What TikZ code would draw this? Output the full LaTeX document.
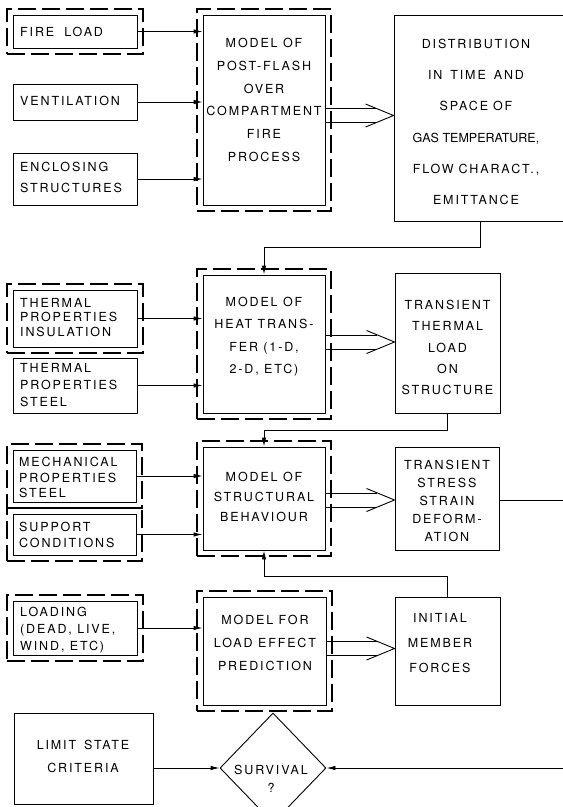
\documentclass[tikz,border=0pt]{standalone}
\usepackage{fontspec}
\usetikzlibrary{arrows.meta,calc,fit,shapes.geometric}
\newfontfamily\lab[LetterSpace=15]{TeX Gyre Heros}
\newfontfamily\labn{TeX Gyre Heros}
\newcommand\lsz[1]{\lab\fontsize{12.5}{#1}\selectfont}
\newcommand\hollowarr[3]{%
  \coordinate (h#2) at (0,#3);
  \coordinate (#2tip) at (#2.west |- h#2);
  \draw[ln] ($(#1.east |- h#2)+(0,7pt)$) -- ($(#2tip)+(-17.5pt,7pt)$);
  \draw[ln] ($(#1.east |- h#2)+(0,-7pt)$) -- ($(#2tip)+(-17.5pt,-7pt)$);
  \draw[ln] ($(#2tip)+(-28pt,11.5pt)$) -- (#2tip) -- ($(#2tip)+(-28pt,-11.5pt)$);
}
\begin{document}
\begin{tikzpicture}[x=1pt,y=-1pt,
  ln/.style={line width=0.9pt},
  arr/.style={ln,-{Latex[length=9pt,width=4.5pt]}},
  box/.style={draw,line width=0.9pt,inner sep=0pt},
  outerd/.style={draw,line width=1.3pt,dash pattern=on 18pt off 6pt,inner sep=5.5pt},
  tx/.style={inner sep=0pt,align=center,font=\lsz{#1}},
  txl/.style={inner sep=0pt,align=left,anchor=west,font=\lsz{#1}}]
\useasboundingbox (0,0) rectangle (563,807);

% ---- boxes ----
\node[box,minimum width=124pt,minimum height=33pt] (fl) at (75,31.5) {};
\node[box,minimum width=124pt,minimum height=36pt] (ven) at (75,102) {};
\node[box,minimum width=124pt,minimum height=52pt] (enc) at (75,179) {};
\node[box,minimum width=122pt,minimum height=190pt] (m1) at (264,110) {};
\node[box,minimum width=172pt,minimum height=206pt] (dist) at (480,118) {};

\node[box,minimum width=124pt,minimum height=57pt] (tpi) at (75,318.5) {};
\node[box,minimum width=124pt,minimum height=55pt] (tps) at (75,385.5) {};
\node[box,minimum width=122pt,minimum height=138pt] (m2) at (264,344) {};
\node[box,minimum width=105pt,minimum height=140pt] (ttl) at (447.5,343) {};

\node[box,minimum width=123pt,minimum height=52pt] (mps) at (74.5,476) {};
\node[box,minimum width=123pt,minimum height=41pt] (sc) at (74.5,534.5) {};
\node[box,minimum width=122pt,minimum height=103pt] (m3) at (264,498.5) {};
\node[box,minimum width=104pt,minimum height=103pt] (ts) at (447,498.5) {};

\node[box,minimum width=124pt,minimum height=54pt] (ld) at (75,628) {};
\node[box,minimum width=123pt,minimum height=108pt] (m4) at (264.5,651) {};
\node[box,minimum width=105pt,minimum height=108pt] (imf) at (447.5,651) {};

\node[box,minimum width=139pt,minimum height=91pt] (ls) at (83.5,758.5) {};
\node[diamond,draw,ln,inner sep=0pt,minimum width=106pt,minimum height=110pt] (dia) at (273,768) {};

% ---- dashed outer borders ----
\node[outerd,fit=(fl)] (flo) {};
\node[outerd,fit=(m1)] (m1o) {};
\node[outerd,fit=(tpi)] (tpio) {};
\node[outerd,fit=(m2)] (m2o) {};
\node[outerd,fit=(mps)] (mpso) {};
\node[outerd,fit=(sc)] (sco) {};
\node[outerd,fit=(m3)] (m3o) {};
\node[outerd,fit=(ld)] (ldo) {};
\node[outerd,fit=(m4)] (m4o) {};

% ---- texts ----
\node[txl=15] (flt) at (20,32) {FIRE\hspace{10pt}LOAD};
\node[txl=15] (vent) at (20,101) {VENTILATION};
\node[txl=21] (enct) at (20,177.5) {ENCLOSING\\STRUCTURES};
\node[tx=22.8] (m1t) at (264,100) {MODEL OF\\POST-FLASH\\OVER\\COMPARTMENT\\FIRE\\PROCESS};
\node[tx=31.2] (distt) at (476,122) {DISTRIBUTION\\IN\hspace{8pt}TIME\hspace{8pt}AND\\SPACE\hspace{5pt}OF\\{\labn GAS TEMPERATURE,}\\FLOW\hspace{5pt}CHARACT.,\\EMITTANCE};

\node[txl=14.5] (tpit) at (20,317.5) {THERMAL\\PROPERTIES\\INSULATION};
\node[txl=17] (tpst) at (20,385.5) {THERMAL\\PROPERTIES\\STEEL};
\node[tx=22.3] (m2t) at (264,336.5) {MODEL OF\\HEAT TRANS-\\FER (1-D,\\2-D, ETC)};
\node[tx=21.25] (ttlt) at (447.5,347.5) {TRANSIENT\\THERMAL\\LOAD\\ON\\STRUCTURE};

\node[txl=15.5] (mpst) at (19,477.5) {MECHANICAL\\PROPERTIES\\STEEL};
\node[txl=16] (sct) at (19,535) {SUPPORT\\CONDITIONS};
\node[tx=20] (m3t) at (264,497) {MODEL OF\\STRUCTURAL\\BEHAVIOUR};
\node[tx=18] (tst) at (447,501) {TRANSIENT\\STRESS\\STRAIN\\DEFORM-\\ATION};

\node[txl=17] (ldt) at (20,630) {LOADING\\(DEAD, LIVE,\\WIND, ETC)};
\node[tx=23] (m4t) at (265,643) {MODEL FOR\\LOAD EFFECT\\PREDICTION};
\node[tx=25] (imft) at (440,643) {INITIAL\\MEMBER\\FORCES};

\node[tx=23] (lst) at (83,756.5) {LIMIT\hspace{8pt}STATE\\CRITERIA};
\node[tx=18] (diat) at (271,779) {SURVIVAL\\?};

% ---- input arrows ----
\draw[arr] (fl.east) -- (fl.east -| m1.west);
\draw[arr] (ven.east) -- (ven.east -| m1.west);
\draw[arr] (enc.east) -- (enc.east -| m1.west);
\draw[arr] (tpi.east) -- (tpi.east -| m2.west);
\draw[arr] (tps.east) -- (tps.east -| m2.west);
\draw[arr] (mps.east) -- (mps.east -| m3.west);
\draw[arr] (sc.east) -- (sc.east -| m3.west);
\draw[arr] (ld.east) -- (ld.east -| m4.west);

% ---- hollow output arrows ----
\hollowarr{m1}{dist}{115.5}
\hollowarr{m2}{ttl}{342}
\hollowarr{m3}{ts}{500}
\hollowarr{m4}{imf}{648.5}

% ---- feedback connectors ----
\coordinate (c1) at (0,247);
\coordinate (c2) at (0,430);
\coordinate (c3) at (0,576);
\draw[arr] (dist.south) -- (dist.south |- c1) -| (m2.north);
\draw[arr] (ttl.south) -- (ttl.south |- c2) -| (m3.north);
\draw[arr] (imf.north) -- (imf.north |- c3) -| (m3.south);

% ---- to / from right edge ----
\coordinate (re1) at (572,500);
\coordinate (re2) at (572,768);
\draw[ln] (ts.east |- re1) -- (re1);
\draw[arr] (re2) -- (dia.east);
\draw[arr] (ls.east |- dia.west) -- (dia.west);
\end{tikzpicture}
\end{document}
